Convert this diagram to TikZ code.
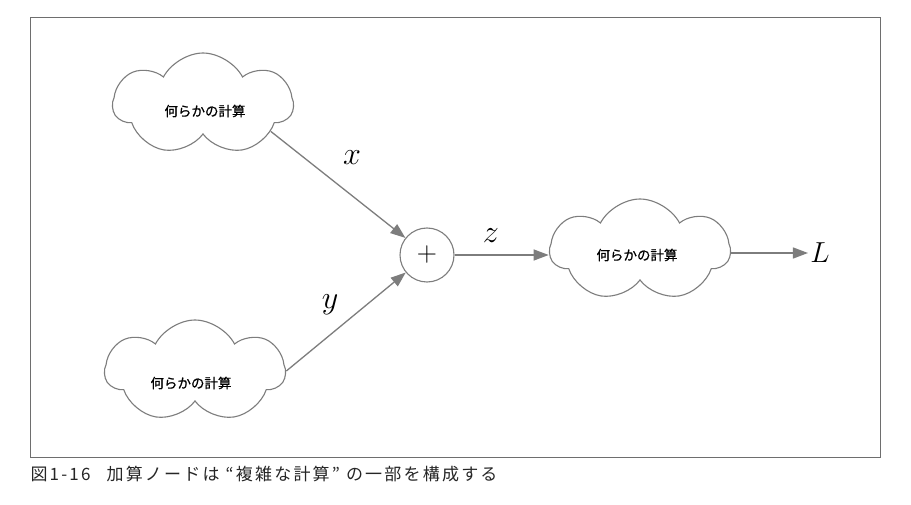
\documentclass[tikz,border=0pt]{standalone}
\usepackage{fontspec}
\newfontfamily\jp[LetterSpace=13]{Noto Sans CJK JP}
\newfontfamily\jpb[FakeBold=0.6]{Noto Sans CJK JP}
\usetikzlibrary{shapes.symbols,arrows.meta}
\definecolor{linegray}{RGB}{125,125,125}
\definecolor{framegray}{RGB}{110,110,110}
\tikzset{
  calc/.style={cloud, draw=linegray, line width=1.1pt, cloud puffs=7, cloud puff arc=125, aspect=1.8,
    minimum width=180pt, minimum height=102pt, inner sep=0pt},
  calctext/.style={font=\jpb\fontsize{13.5}{15}\selectfont, text=black},
  addnode/.style={circle, draw=linegray, line width=1.1pt, minimum size=54pt, inner sep=0pt},
  flow/.style={draw=linegray, line width=1.3pt, -{Triangle[length=15pt,width=11pt]}, color=linegray},
  mlabel/.style={font=\fontsize{20.74}{24}\selectfont, text=black, scale=1.55},
}
\begin{document}
\begin{tikzpicture}[x=1pt,y=-1pt]
\useasboundingbox (0,0) rectangle (911,505);
\fill[white] (0,0) rectangle (911,505);
\draw[framegray, line width=1pt] (30,18) rectangle (880,457);
\node[calc] (c1) at (203,104) {};
\node[calctext] (t1) at (205,111) {何らかの計算};
\node[calc] (c2) at (195,371) {};
\node[calctext] (t2) at (191,383) {何らかの計算};
\node[calc] (c3) at (640,250) {};
\node[calctext] (t3) at (637,255) {何らかの計算};
\node[addnode] (add) at (427,255) {};
\node[font=\fontsize{20.74}{24}\selectfont, scale=1.35] (plus) at (add.center) {$+$};
\node[mlabel, scale=0.9, inner sep=1.5pt] (L) at (820,253) {$L$};
\draw[flow] (c1.-22) -- (add);
\draw[flow] (c2.0) -- (add);
\draw[flow] (add.east) -- (c3.west |- add.east);
\draw[flow] (c3.east |- L.west) -- (L.west);
\node[mlabel] (lx) at (352,158) {$x$};
\node[mlabel] (ly) at (330,305) {$y$};
\node[mlabel] (lz) at (491,236) {$z$};
\node[anchor=west, font=\jp\fontsize{17}{19}\selectfont, text=black!85] (cap) at (27,474) {図1-16\hspace{16pt}加算ノードは\hspace{6pt}“複雑な計算”\hspace{6pt}の一部を構成する};
\end{tikzpicture}
\end{document}
